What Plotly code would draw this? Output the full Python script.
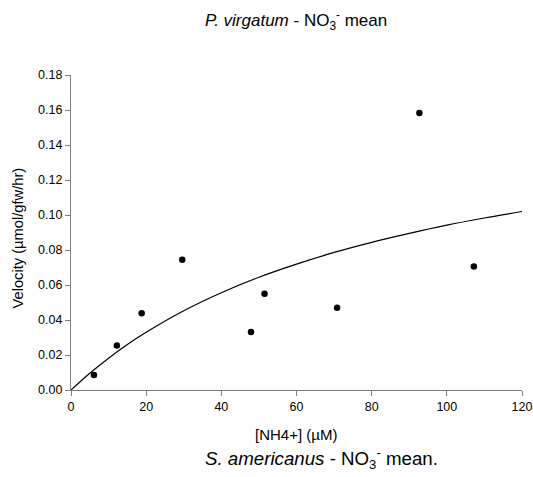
import plotly.graph_objects as go

# Observed data points
conc = [6.1, 12.2, 18.8, 29.6, 47.9, 51.5, 70.8, 92.7, 107.2]
velocity = [0.0086, 0.0255, 0.0438, 0.0745, 0.0331, 0.0550, 0.0470, 0.1583, 0.0706]

# Fitted curve
curve_x = [0, 5, 10, 15, 20, 30, 40, 50, 60, 70, 80, 90, 100, 110, 120]
curve_y = [0.0, 0.0096, 0.0182, 0.0260, 0.0330, 0.0453, 0.0556, 0.0644, 0.0719,
           0.0786, 0.0844, 0.0895, 0.0942, 0.0983, 0.1020]

x_ticks = [0, 20, 40, 60, 80, 100, 120]
y_ticks = [0.00, 0.02, 0.04, 0.06, 0.08, 0.10, 0.12, 0.14, 0.16, 0.18]

FONT = "Liberation Sans, Arial, sans-serif"

fig = go.Figure()
fig.add_trace(go.Scatter(x=curve_x, y=curve_y, mode="lines", line=dict(color="black", width=1.2, shape="spline"),
                         hoverinfo="skip", showlegend=False, cliponaxis=False))
fig.add_trace(go.Scatter(x=conc, y=velocity, mode="markers",
                         marker=dict(color="black", size=6.5), showlegend=False, cliponaxis=False))

axis_common = dict(showgrid=False, zeroline=False, showline=True, linecolor="#808080", linewidth=1.3,
                   ticks="outside", ticklen=5, tickcolor="#808080", tickwidth=1,
                   tickfont=dict(family=FONT, size=12.5, color="black"), automargin=False)

fig.update_xaxes(range=[0, 120], tickvals=x_ticks, **axis_common)
fig.update_yaxes(range=[0, 0.18], tickvals=y_ticks, tickformat=".2f", **axis_common)

L, R, T, B = 71, 11, 75, 87
W, H = 533, 477
pw, ph = W - L - R, H - T - B

def px(xp):
    return (xp - L) / pw

def py(yp):
    return (H - B - yp) / ph

fig.update_layout(
    width=W, height=H, margin=dict(l=L, r=R, t=T, b=B),
    paper_bgcolor="white", plot_bgcolor="white",
    font=dict(family=FONT, color="black"),
    annotations=[
        dict(text="<i>P. virgatum</i> - NO<sub>3</sub><sup>-</sup> mean", xref="paper", yref="paper",
             x=px(296), y=py(21), xanchor="center", yanchor="middle", showarrow=False,
             font=dict(size=17)),
        dict(text="Velocity (µmol/gfw/hr)", xref="paper", yref="paper", textangle=-90,
             x=px(17.5), y=py(238), xanchor="center", yanchor="middle", showarrow=False,
             font=dict(size=14.7)),
        dict(text="[NH4+] (µM)", xref="paper", yref="paper",
             x=px(296), y=py(434.5), xanchor="center", yanchor="middle", showarrow=False,
             font=dict(size=15)),
        dict(text="<i>S. americanus</i> - NO<sub>3</sub><sup>-</sup> mean.", xref="paper", yref="paper",
             x=px(321), y=py(458), xanchor="center", yanchor="middle", showarrow=False,
             font=dict(size=18.7)),
    ],
)

fig.write_html("out.html", config={"displayModeBar": False},
               post_script="document.body.style.margin='0';document.body.style.overflow='hidden';")
